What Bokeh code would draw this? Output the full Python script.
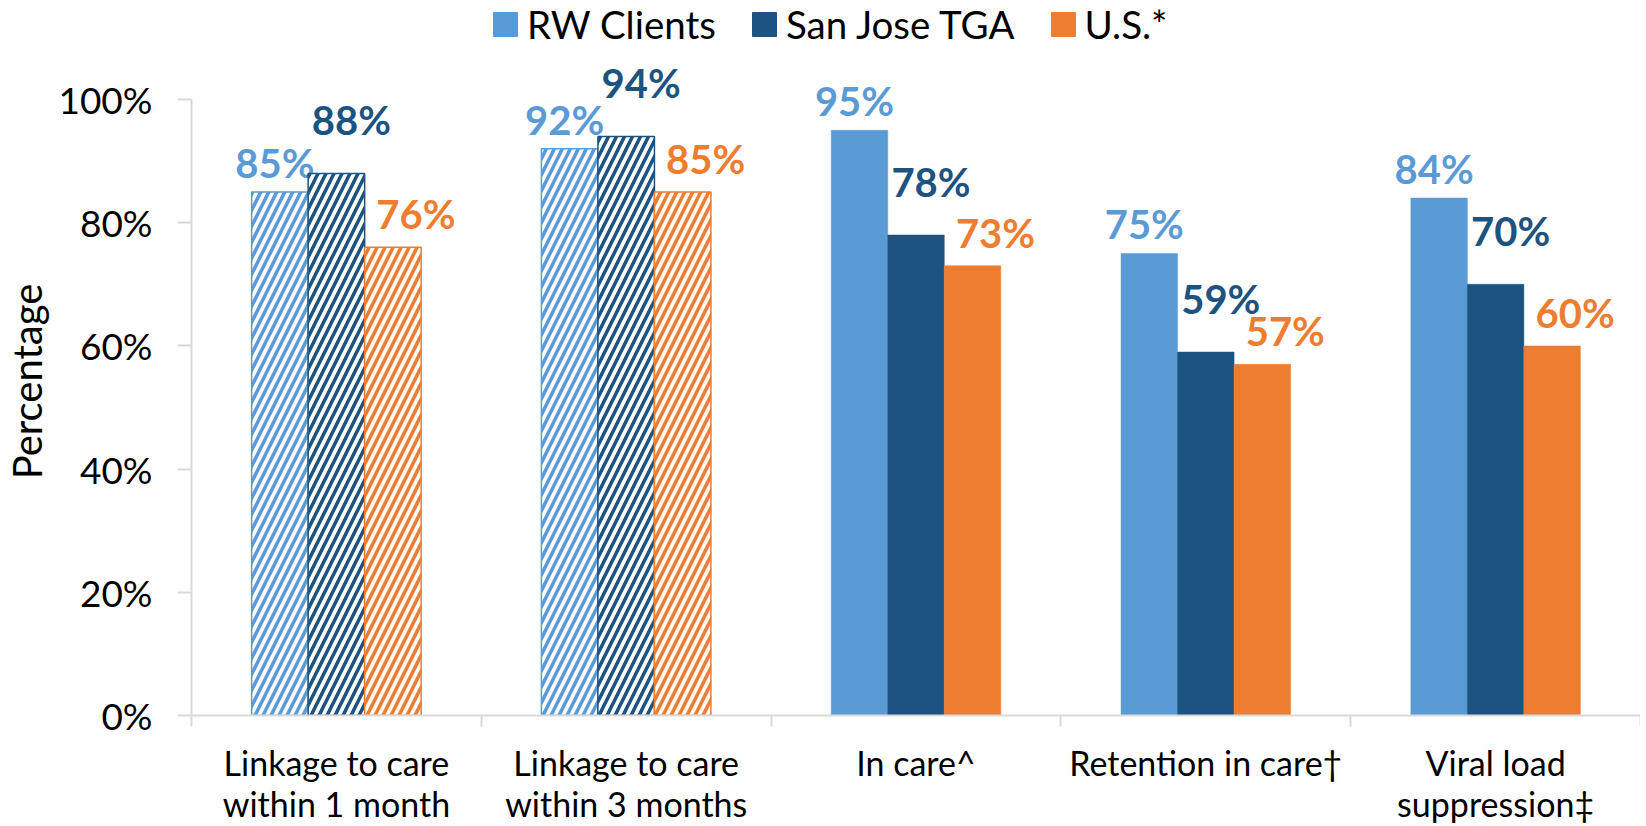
from bokeh.plotting import figure
from bokeh.layouts import column
from bokeh.models import (FixedTicker, PrintfTickFormatter, Legend, LegendItem,
                          ColumnDataSource, Range1d)
from bokeh.core.properties import value
from bokeh.embed import file_html
from bokeh.resources import INLINE

# ---------------- data ----------------
categories = ["Linkage to care\nwithin 1 month", "Linkage to care\nwithin 3 months",
              "In care^", "Retention in care\u2020", "Viral load\nsuppression\u2021"]
series_names = ["RW Clients", "San Jose TGA", "U.S.*"]
rw_clients = [85, 92, 95, 75, 84]
san_jose_tga = [88, 94, 78, 59, 70]
us_values = [76, 85, 73, 57, 60]
y_ticks = [0, 20, 40, 60, 80, 100]
hatched_flags = [True, True, False, False, False]

# ---------------- styles ----------------
colors = ["#5B9BD5", "#1D5381", "#ED7D31"]
FONT = "Lato"
bar_w = 0.195
bar_shift = [-bar_w, 0.0, bar_w]
label_dx = [-5, 15, 23]     # pixel nudges for data labels per series
label_gap = [29, 53, 33]

W = 1640
LEFT = 188
LEG_H = 47
MAIN_H = 694
LAB_H = 83
X_RANGE = Range1d(0, 5)

# ---------------- main chart ----------------
p = figure(width=W, height=MAIN_H, output_backend="svg", toolbar_location=None,
           x_range=X_RANGE, y_range=Range1d(0, 108.44),
           min_border_left=LEFT, min_border_right=0, min_border_top=0,
           min_border_bottom=26)
p.outline_line_color = None
p.grid.visible = False
p.background_fill_color = "white"

all_series = [rw_clients, san_jose_tga, us_values]
for k, vals in enumerate(all_series):
    xs = [i + 0.5 + bar_shift[k] for i in range(len(categories))]
    hx = [x for x, h in zip(xs, hatched_flags) if h]
    hv = [v for v, h in zip(vals, hatched_flags) if h]
    sx = [x for x, h in zip(xs, hatched_flags) if not h]
    sv = [v for v, h in zip(vals, hatched_flags) if not h]
    p.vbar(x=hx, top=hv, width=bar_w, bottom=0, fill_color="white",
           line_color=colors[k], line_width=1.5, hatch_pattern="/",
           hatch_color=colors[k], hatch_scale=16, hatch_weight=3.5)
    p.vbar(x=sx, top=sv, width=bar_w, bottom=0, fill_color=colors[k],
           line_color=colors[k], line_width=0.5)
    src = ColumnDataSource(dict(x=xs, y=vals, t=[f"{v}%" for v in vals]))
    p.text(x="x", y="y", text="t", source=src, text_align="center",
           text_baseline="alphabetic", x_offset=label_dx[k], y_offset=-label_gap[k],
           text_font=value(FONT), text_font_style="bold", text_font_size="40px",
           text_color=colors[k])

# x axis: category separator ticks only (labels are drawn in the strip below)
xa = p.xaxis[0]
xa.ticker = FixedTicker(ticks=[i + 0.5 for i in range(len(categories))],
                        minor_ticks=list(range(len(categories) + 1)))
xa.major_label_overrides = {i + 0.5: "" for i in range(len(categories))}
xa.major_label_text_font_size = "1px"
xa.major_label_standoff = 0
xa.major_tick_out = 0
xa.major_tick_in = 0
xa.minor_tick_out = 11
xa.minor_tick_in = 0
xa.minor_tick_line_color = "#D9D9D9"
xa.minor_tick_line_width = 2
xa.axis_line_color = "#D9D9D9"
xa.axis_line_width = 2

# y axis
ya = p.yaxis[0]
ya.ticker = FixedTicker(ticks=y_ticks)
ya.formatter = PrintfTickFormatter(format="%d%%")
ya.bounds = (0, 100)
ya.major_tick_out = 14
ya.major_tick_in = 0
ya.minor_tick_line_color = None
ya.major_tick_line_color = "#D9D9D9"
ya.major_tick_line_width = 2
ya.axis_line_color = "#D9D9D9"
ya.axis_line_width = 2
ya.major_label_standoff = 25
ya.major_label_text_font = FONT
ya.major_label_text_font_size = "37px"
ya.major_label_text_color = "black"
ya.axis_label = "Percentage"
ya.axis_label_text_font = FONT
ya.axis_label_text_font_size = "40px"
ya.axis_label_text_font_style = "normal"
ya.axis_label_text_color = "black"
ya.axis_label_standoff = 4

# ---------------- category label strip ----------------
lab = figure(width=W, height=LAB_H, output_backend="svg", toolbar_location=None,
             x_range=X_RANGE, y_range=Range1d(0, 1),
             x_axis_type=None, y_axis_type=None,
             min_border_left=LEFT, min_border_right=0, min_border_top=0,
             min_border_bottom=0)
lab.outline_line_color = None
lab.grid.visible = False
line1 = [c.split("\n")[0] for c in categories]
line2 = [c.split("\n")[1] if "\n" in c else "" for c in categories]
cx = [i + 0.5 for i in range(len(categories))]
for txt, dy in ((line1, 21), (line2, 62)):
    lab.text(x=cx, y=[1] * len(cx), text=txt, text_align="center",
             text_baseline="alphabetic", y_offset=dy, text_font=value(FONT),
             text_font_size="34px", text_color="black")

# ---------------- legend strip ----------------
lf = figure(width=W, height=LEG_H, output_backend="svg", toolbar_location=None,
            x_range=Range1d(0, 1), y_range=Range1d(0, 1),
            x_axis_type=None, y_axis_type=None,
            min_border_left=LEFT, min_border_right=0, min_border_top=0,
            min_border_bottom=0)
lf.outline_line_color = None
lf.grid.visible = False
items = []
for k, name in enumerate(series_names):
    r = lf.vbar(x=[5], top=[1], width=0.1, fill_color=colors[k], line_color=colors[k])
    items.append(LegendItem(label=name, renderers=[r]))
legend = Legend(items=items, orientation="horizontal", location=(299, 0),
                label_text_font=FONT, label_text_font_size="38.5px",
                label_text_color="black", glyph_width=30, glyph_height=30,
                label_height=30, label_standoff=7, spacing=33, padding=0,
                margin=0, border_line_color=None, background_fill_alpha=0)
lf.add_layout(legend, "center")

layout = column(lf, p, lab, spacing=0)
open("out.html", "w").write(file_html(layout, INLINE))
